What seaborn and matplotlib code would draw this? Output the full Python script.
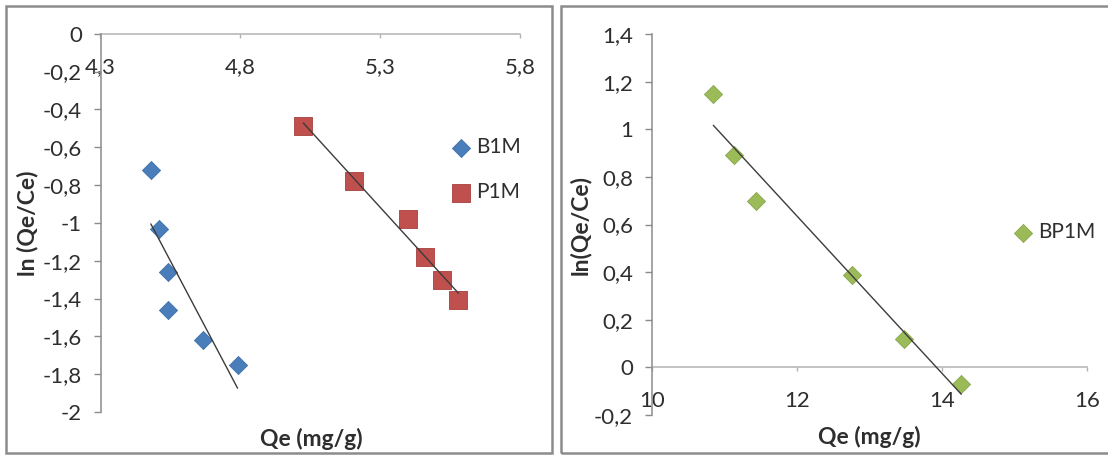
import numpy as np
import pandas as pd
import matplotlib
matplotlib.use("Agg")
import matplotlib.pyplot as plt
import seaborn as sns
from matplotlib.patches import Rectangle

# ---------------- data ----------------
b1m_qe = [4.48, 4.51, 4.54, 4.54, 4.665, 4.79]
b1m_ln = [-0.72, -1.03, -1.26, -1.46, -1.62, -1.75]

p1m_qe = [5.025, 5.205, 5.40, 5.46, 5.52, 5.58]
p1m_ln = [-0.49, -0.78, -0.98, -1.18, -1.30, -1.41]

bp1m_qe = [10.85, 11.14, 11.44, 12.76, 13.48, 14.27]
bp1m_ln = [1.15, 0.89, 0.70, 0.39, 0.12, -0.07]

left_xticks = [4.3, 4.8, 5.3, 5.8]
left_xticklabels = ["4,3", "4,8", "5,3", "5,8"]
left_yticks = [0, -0.2, -0.4, -0.6, -0.8, -1.0, -1.2, -1.4, -1.6, -1.8, -2.0]
left_yticklabels = ["0", "-0,2", "-0,4", "-0,6", "-0,8", "-1", "-1,2", "-1,4",
                    "-1,6", "-1,8", "-2"]

right_xticks = [10, 12, 14, 16]
right_xticklabels = ["10", "12", "14", "16"]
right_yticks = [1.4, 1.2, 1.0, 0.8, 0.6, 0.4, 0.2, 0.0, -0.2]
right_yticklabels = ["1,4", "1,2", "1", "0,8", "0,6", "0,4", "0,2", "0", "-0,2"]

BLUE = "#4A7EBB"
RED = "#C0504D"
GREEN = "#9BBB59"
LINE = "#3c3c3c"
TXT = "#2e2e2e"

sns.set_theme(style="white")
plt.rcParams["font.family"] = ["Lato", "DejaVu Sans"]

W, H = 1108, 455
fig = plt.figure(figsize=(W / 100, H / 100), dpi=100)
fig.patch.set_facecolor("white")

def fx(px):
    return px / W

def fy(py):
    return 1 - py / H

axL = fig.add_axes([fx(100.5), fy(412), fx(520) - fx(100.5), fy(33.7) - fy(412)])
axR = fig.add_axes([fx(651.7), fy(415), fx(1086.7) - fx(651.7), fy(34) - fy(415)])

# ---------------- left panel ----------------
sns.scatterplot(x=b1m_qe, y=b1m_ln, marker="D", s=85, color=BLUE,
                edgecolor="#3f6fa8", linewidth=0.6, ax=axL, label="B1M", zorder=3)
sns.scatterplot(x=p1m_qe, y=p1m_ln, marker="s", s=180, color=RED,
                edgecolor="#a8403d", linewidth=0.6, ax=axL, label="P1M", zorder=3)
sns.regplot(x=b1m_qe, y=b1m_ln, scatter=False, ci=None, truncate=True,
            line_kws=dict(color=LINE, lw=1.0, zorder=4), ax=axL)
sns.regplot(x=p1m_qe, y=p1m_ln, scatter=False, ci=None, truncate=True,
            line_kws=dict(color=LINE, lw=1.0, zorder=4), ax=axL)

axL.set_xlim(4.3, 5.8)
axL.set_ylim(-2, 0)

# ---------------- right panel ----------------
sns.scatterplot(x=bp1m_qe, y=bp1m_ln, marker="D", s=85, color=GREEN,
                edgecolor="#87a64a", linewidth=0.6, ax=axR, label="BP1M", zorder=3)
sns.regplot(x=bp1m_qe, y=bp1m_ln, scatter=False, ci=None, truncate=True,
            line_kws=dict(color=LINE, lw=1.0, zorder=4), ax=axR)
axR.set_xlim(10, 16)
axR.set_ylim(-0.2, 1.4)

# ---------------- axes styling ----------------
TICK_FS = 16
for ax, xt, xtl, yt, ytl in [(axL, left_xticks, left_xticklabels, left_yticks, left_yticklabels),
                             (axR, right_xticks, right_xticklabels, right_yticks, right_yticklabels)]:
    ax.set_facecolor("white")
    ax.spines["top"].set_visible(False)
    ax.spines["right"].set_visible(False)
    ax.spines["bottom"].set_position(("data", 0))
    ax.spines["bottom"].set_color("#b3b3b3")
    ax.spines["bottom"].set_linewidth(1.1)
    ax.spines["left"].set_color("#8c8c8c")
    ax.spines["left"].set_linewidth(1.1)
    ax.spines["bottom"].set_zorder(1)
    ax.set_xticks(xt)
    ax.set_xticklabels(xtl)
    ax.set_yticks(yt)
    ax.set_yticklabels(ytl)
    ax.tick_params(axis="y", direction="out", length=5, width=1.0, color="#8c8c8c",
                   pad=8.5, left=True, labelsize=TICK_FS, labelcolor=TXT)
    ax.tick_params(axis="x", direction="out", length=3, width=1.0, color="#b3b3b3",
                   pad=14, bottom=True, labelsize=TICK_FS, labelcolor=TXT)
    ax.set_xlabel("")
    ax.set_ylabel("")
    ax.grid(False)

# axis titles
LAB_FS = 16.5
fig.text(fx(311), fy(439), "Qe (mg/g)", ha="center", va="center",
         fontsize=LAB_FS, fontweight="bold", color=TXT)
fig.text(fx(869), fy(437), "Qe (mg/g)", ha="center", va="center",
         fontsize=LAB_FS, fontweight="bold", color=TXT)
fig.text(fx(28), fy(223), "ln (Qe/Ce)", ha="center", va="center", rotation=90,
         fontsize=LAB_FS, fontweight="bold", color=TXT)
fig.text(fx(580), fy(225), "ln(Qe/Ce)", ha="center", va="center", rotation=90,
         fontsize=LAB_FS, fontweight="bold", color=TXT)

# legends
legL = axL.legend(loc="center left", bbox_to_anchor=(fx(451), fy(169.5)),
                  bbox_transform=fig.transFigure, frameon=False, fontsize=15,
                  borderpad=0, borderaxespad=0, handlelength=1.0,
                  handletextpad=0.2, labelspacing=1.2)
legR = axR.legend(loc="center left", bbox_to_anchor=(fx(1013), fy(232)),
                  bbox_transform=fig.transFigure, frameon=False, fontsize=15,
                  borderpad=0, borderaxespad=0, handlelength=1.0,
                  handletextpad=0.2)
for leg in (legL, legR):
    for t in leg.get_texts():
        t.set_color(TXT)

# panel frames
fig.patches.append(Rectangle((fx(6), fy(453)), fx(552) - fx(6), fy(6) - fy(453),
                             transform=fig.transFigure, fill=False,
                             edgecolor="#8c8c8c", linewidth=1.8))
fig.patches.append(Rectangle((fx(561), fy(453)), fx(1115) - fx(561), fy(6) - fy(453),
                             transform=fig.transFigure, fill=False,
                             edgecolor="#8c8c8c", linewidth=1.8))

fig.savefig("out.png", dpi=100, facecolor="white")
